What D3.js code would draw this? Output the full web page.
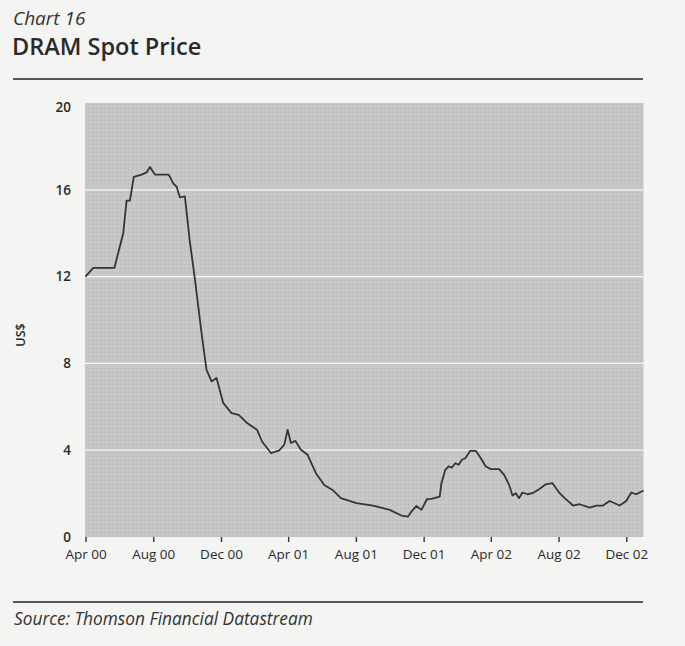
<!DOCTYPE html>
<html>
<head>
<meta charset="utf-8">
<script src="https://cdn.jsdelivr.net/npm/d3@7"></script>
<style>
  html, body { margin: 0; padding: 0; background: #f4f4f2; }
  svg { display: block; }
</style>
</head>
<body>
<svg id="chart" width="685" height="646"></svg>
<script>
// ---- data ----
const dates = [
  "2000-04-01","2000-04-15","2000-05-23","2000-06-08","2000-06-14","2000-06-20","2000-06-27",
  "2000-07-11","2000-07-20","2000-07-26","2000-08-04","2000-08-29","2000-09-06","2000-09-12",
  "2000-09-18","2000-09-27","2000-10-06","2000-10-15","2000-10-27","2000-11-05","2000-11-14",
  "2000-11-23","2000-12-05","2000-12-20","2001-01-02","2001-01-17","2001-02-04","2001-02-13",
  "2001-03-01","2001-03-16","2001-03-25","2001-03-31","2001-04-06","2001-04-14","2001-04-24",
  "2001-05-06","2001-05-21","2001-06-05","2001-06-20","2001-07-05","2001-08-02","2001-09-01",
  "2001-10-01","2001-10-22","2001-11-03","2001-11-09","2001-11-18","2001-11-27","2001-12-07",
  "2001-12-15","2001-12-30","2002-01-02","2002-01-09","2002-01-15","2002-01-21","2002-01-27",
  "2002-02-02","2002-02-08","2002-02-14","2002-02-23","2002-03-05","2002-03-14","2002-03-23",
  "2002-04-01","2002-04-16","2002-04-25","2002-05-04","2002-05-10","2002-05-16","2002-05-22",
  "2002-05-28","2002-06-06","2002-06-15","2002-06-27","2002-07-09","2002-07-21","2002-08-03",
  "2002-08-12","2002-08-27","2002-09-08","2002-09-26","2002-10-08","2002-10-20","2002-11-01",
  "2002-11-19","2002-12-01","2002-12-10","2002-12-19","2003-01-01"
];
const prices = [
  12.0, 12.4, 12.4, 14.0, 15.5, 15.5, 16.6,
  16.7, 16.8, 17.05, 16.7, 16.7, 16.3, 16.15,
  15.65, 15.7, 13.6, 11.9, 9.4, 7.7, 7.17,
  7.33, 6.18, 5.71, 5.63, 5.25, 4.94, 4.4,
  3.87, 3.99, 4.25, 4.94, 4.33, 4.43, 4.02,
  3.79, 2.94, 2.4, 2.17, 1.79, 1.56, 1.45,
  1.25, 0.99, 0.94, 1.17, 1.43, 1.25, 1.74,
  1.76, 1.86, 2.48, 3.09, 3.25, 3.2, 3.4,
  3.33, 3.56, 3.63, 3.97, 3.97, 3.63, 3.25,
  3.13, 3.13, 2.86, 2.4, 1.91, 2.02, 1.79,
  2.05, 1.97, 2.02, 2.2, 2.43, 2.48, 2.02,
  1.79, 1.45, 1.51, 1.35, 1.45, 1.45, 1.66,
  1.45, 1.66, 2.05, 1.97, 2.14
];
const yTicks = [0, 4, 8, 12, 16, 20];
const gridValues = [4, 8, 12, 16];
const xTickDates = ["2000-04-01","2000-08-01","2000-12-01","2001-04-01","2001-08-01",
                    "2001-12-01","2002-04-01","2002-08-01","2002-12-01"];
const xTickLabels = ["Apr 00","Aug 00","Dec 00","Apr 01","Aug 01","Dec 01","Apr 02","Aug 02","Dec 02"];
const chartNumber = "Chart 16";
const chartTitle = "DRAM Spot Price";
const yAxisTitle = "US$";
const sourceText = "Source: Thomson Financial Datastream";

// ---- drawing ----
const parse = d3.utcParse("%Y-%m-%d");
const data = dates.map((d, i) => ({ date: parse(d), value: prices[i] }));

const svg = d3.select("#chart");
const font = "'Open Sans', 'Noto Sans', sans-serif";
const ink = "#2a2a2a";

const plot = { left: 85, right: 643.5, top: 103, bottom: 537 };

const x = d3.scaleUtc()
  .domain([parse("2000-04-01"), parse("2003-01-01")])
  .range([plot.left + 0.5, plot.right]);
const y = d3.scaleLinear()
  .domain([0, 20])
  .range([plot.bottom, plot.top]);

// Titles
svg.append("text")
  .attr("x", 13).attr("y", 25)
  .attr("font-family", font).attr("font-style", "italic")
  .attr("font-size", 19).attr("fill", "#333")
  .text(chartNumber);
svg.append("text")
  .attr("x", 12).attr("y", 55)
  .attr("font-family", font).attr("font-weight", 600)
  .attr("font-size", 23.5).attr("fill", ink)
  .text(chartTitle);

// Rules
svg.append("line")
  .attr("x1", 13).attr("x2", 643).attr("y1", 79).attr("y2", 79)
  .attr("stroke", "#222").attr("stroke-width", 1.6);
svg.append("line")
  .attr("x1", 13).attr("x2", 643).attr("y1", 602).attr("y2", 602)
  .attr("stroke", "#222").attr("stroke-width", 1.6);

// Plot background with subtle texture
const defs = svg.append("defs");
const pat = defs.append("pattern")
  .attr("id", "tex").attr("patternUnits", "userSpaceOnUse")
  .attr("width", 4).attr("height", 4);
pat.append("rect").attr("width", 4).attr("height", 4).attr("fill", "#c6c6c6");
pat.append("rect").attr("x", 0).attr("y", 0).attr("width", 1).attr("height", 1).attr("fill", "#b8b8b8");
pat.append("rect").attr("x", 2).attr("y", 2).attr("width", 1).attr("height", 1).attr("fill", "#d0d0d0");

svg.append("rect")
  .attr("x", plot.left).attr("y", plot.top)
  .attr("width", plot.right - plot.left).attr("height", plot.bottom - plot.top)
  .attr("fill", "url(#tex)");

// Gridlines
svg.append("g").selectAll("line")
  .data(gridValues).join("line")
  .attr("x1", plot.left).attr("x2", plot.right)
  .attr("y1", d => y(d)).attr("y2", d => y(d))
  .attr("stroke", "#f6f6f6").attr("stroke-width", 1.3);

// Y axis labels
const yAxis = d3.axisLeft(y).tickValues(yTicks).tickSize(0).tickPadding(14)
  .tickFormat(d3.format("d"));
const gy = svg.append("g").attr("transform", `translate(${plot.left},0)`).call(yAxis);
gy.select(".domain").remove();
gy.selectAll("text")
  .attr("font-family", font).attr("font-size", 13.5).attr("font-weight", 600)
  .attr("fill", ink)
  .attr("dy", d => d === 20 ? "0.6em" : "0.32em");

// X axis
const xAxis = d3.axisBottom(x)
  .tickValues(xTickDates.map(parse))
  .tickSize(5).tickPadding(7)
  .tickFormat((d, i) => xTickLabels[i]);
const gx = svg.append("g").attr("transform", `translate(0,${plot.bottom})`).call(xAxis);
gx.select(".domain").remove();
gx.selectAll(".tick line").attr("stroke", "#333").attr("stroke-width", 1.4);
gx.selectAll("text")
  .attr("font-family", font).attr("font-size", 13.5).attr("fill", ink);

// Y axis title
svg.append("text")
  .attr("transform", "translate(25,335) rotate(-90)")
  .attr("text-anchor", "middle")
  .attr("font-family", font).attr("font-size", 12.5).attr("font-weight", 600)
  .attr("fill", ink)
  .text(yAxisTitle);

// Line
const line = d3.line().x(d => x(d.date)).y(d => y(d.value));
svg.append("path")
  .datum(data)
  .attr("d", line)
  .attr("fill", "none")
  .attr("stroke", "#353535")
  .attr("stroke-width", 1.8)
  .attr("stroke-linejoin", "round");

// Source
svg.append("text")
  .attr("x", 14).attr("y", 625)
  .attr("font-family", font).attr("font-style", "italic")
  .attr("font-size", 17.3).attr("fill", "#333")
  .text(sourceText);
</script>
</body>
</html>
